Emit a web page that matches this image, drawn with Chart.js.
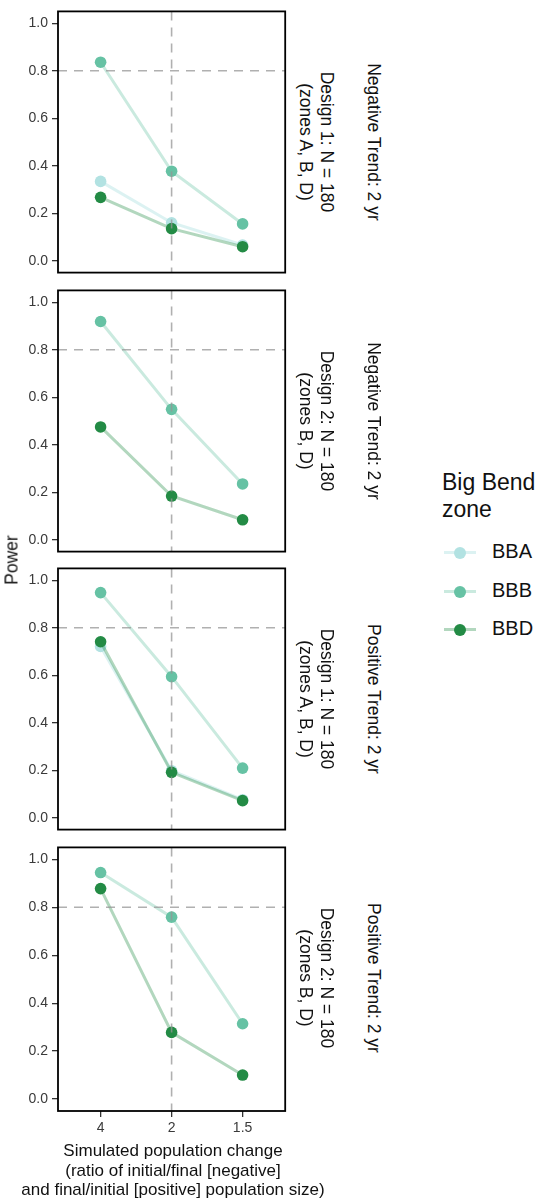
<!DOCTYPE html>
<html>
<head>
<meta charset="utf-8">
<script src="https://cdn.jsdelivr.net/npm/chart.js@4"></script>
<style>
  body { margin: 0; background: #fff; font-family: "Liberation Sans", Arial, sans-serif; }
  #wrap { position: relative; width: 545px; height: 1200px; overflow: hidden; }
  canvas { position: absolute; left: 0; }
  .rot { position: absolute; white-space: nowrap; text-align: center; color: #111; }
  .legend-item { position: absolute; left: 444px; height: 20px; }
  .legend-item .ln { position: absolute; left: 0; top: 8px; width: 32px; height: 3px; }
  .legend-item .pt { position: absolute; left: 10px; top: 4px; width: 12px; height: 12px; border-radius: 50%; }
  .legend-item .lb { position: absolute; left: 48px; top: -3px; font-size: 20px; color: #111; }
</style>
</head>
<body>
<div id="wrap"></div>
<script>
// x categories (simulated population change) and y ticks
const xLabels = ['4', '2', '1.5'];
const yTicks = [0, 0.2, 0.4, 0.6, 0.8, 1.0];
const powerTarget = 0.8;
const refCategory = 1; // the "2" column

const zones = ['BBA', 'BBB', 'BBD'];
const zoneColors = ['#b2e2e2', '#66c2a4', '#238b45'];
const zoneLines = ['rgba(178,226,226,0.45)', 'rgba(102,194,164,0.35)', 'rgba(35,139,69,0.35)'];

const trendLabels = ['Negative Trend: 2 yr', 'Negative Trend: 2 yr', 'Positive Trend: 2 yr', 'Positive Trend: 2 yr'];
const designLabels = [
    ['Design 1: N = 180', '(zones A, B, D)'],
    ['Design 2: N = 180', '(zones B, D)'],
    ['Design 1: N = 180', '(zones A, B, D)'],
    ['Design 2: N = 180', '(zones B, D)']
];

// power values, one array per panel and zone (null = zone not sampled)
const negD1BBA = [0.334, 0.160, 0.066];
const negD1BBB = [0.836, 0.377, 0.155];
const negD1BBD = [0.267, 0.135, 0.059];

const negD2BBA = null;
const negD2BBB = [0.919, 0.549, 0.235];
const negD2BBD = [0.475, 0.184, 0.084];

const posD1BBA = [0.721, 0.198, 0.076];
const posD1BBB = [0.948, 0.594, 0.209];
const posD1BBD = [0.741, 0.191, 0.072];

const posD2BBA = null;
const posD2BBB = [0.945, 0.759, 0.314];
const posD2BBD = [0.878, 0.278, 0.100];

const panelSeries = [
    [negD1BBA, negD1BBB, negD1BBD],
    [negD2BBA, negD2BBB, negD2BBD],
    [posD1BBA, posD1BBB, posD1BBD],
    [posD2BBA, posD2BBB, posD2BBD]
];

const wrap = document.getElementById('wrap');
const panelTop0 = 9, panelStep = 278.7, panelH = 266, padTop = 10;

const frameAndRefs = {
    id: 'frameAndRefs',
    afterDatasetsDraw(chart) {
        const { ctx, chartArea: a, scales: { x, y } } = chart;
        ctx.save();
        ctx.strokeStyle = 'rgba(150,150,150,0.75)';
        ctx.lineWidth = 1.6;
        ctx.setLineDash([9, 7]);
        const yy = y.getPixelForValue(powerTarget);
        ctx.beginPath();
        ctx.moveTo(a.left, yy);
        ctx.lineTo(a.right, yy);
        const xx = x.getPixelForValue(refCategory);
        ctx.moveTo(xx, a.top);
        ctx.lineTo(xx, a.bottom);
        ctx.stroke();
        ctx.setLineDash([]);
        ctx.strokeStyle = '#000';
        ctx.lineWidth = 1.8;
        ctx.strokeRect(a.left, a.top, a.width, a.height);
        ctx.restore();
    }
};

function addRotated(text, cx, cy, deg, size, lineH) {
    const d = document.createElement('div');
    d.className = 'rot';
    d.style.left = cx + 'px';
    d.style.top = cy + 'px';
    d.style.fontSize = size + 'px';
    d.style.lineHeight = lineH + 'px';
    d.style.transform = 'translate(-50%,-50%) rotate(' + deg + 'deg)';
    d.innerHTML = text;
    wrap.appendChild(d);
}

panelSeries.forEach((series, p) => {
    const isLast = p === panelSeries.length - 1;
    const top = panelTop0 + p * panelStep;
    const bottomExtra = isLast ? 30 : 10;
    const canvas = document.createElement('canvas');
    canvas.width = 291;
    canvas.height = Math.round(panelH + padTop + bottomExtra);
    canvas.style.top = (top - padTop) + 'px';
    wrap.appendChild(canvas);

    const datasets = [];
    series.forEach((vals, z) => {
        if (!vals) return;
        datasets.push({
            label: zones[z],
            data: vals.map((v, i) => ({ x: i, y: v })),
            borderColor: zoneLines[z],
            borderWidth: 3,
            pointBackgroundColor: zoneColors[z],
            pointBorderColor: zoneColors[z],
            pointBorderWidth: 0,
            pointRadius: 5.8,
            tension: 0,
            order: zones.length - z
        });
    });

    new Chart(canvas, {
        type: 'line',
        data: { datasets },
        options: {
            responsive: false,
            animation: false,
            events: [],
            layout: { padding: { top: padTop, right: 2, bottom: isLast ? 0 : 10, left: 0 } },
            plugins: { legend: { display: false }, tooltip: { enabled: false } },
            scales: {
                x: {
                    type: 'linear',
                    min: -0.6,
                    max: 2.6,
                    display: isLast,
                    afterBuildTicks: s => { s.ticks = xLabels.map((l, i) => ({ value: i })); },
                    afterFit: s => { if (isLast) s.height = 30; },
                    ticks: {
                        callback: (v) => xLabels[v],
                        font: { family: 'Liberation Sans', size: 14 },
                        color: '#3a3a3a',
                        padding: 3,
                        maxRotation: 0
                    },
                    grid: { drawOnChartArea: false, drawTicks: true, tickLength: 6, color: '#333', lineWidth: 1.3 },
                    border: { display: false }
                },
                y: {
                    min: -0.05,
                    max: 1.05,
                    afterBuildTicks: s => { s.ticks = yTicks.map(v => ({ value: v })); },
                    afterFit: s => { s.width = 58; },
                    ticks: {
                        callback: v => v.toFixed(1),
                        font: { family: 'Liberation Sans', size: 14 },
                        color: '#3a3a3a',
                        padding: 4
                    },
                    grid: { drawOnChartArea: false, drawTicks: true, tickLength: 6, color: '#333', lineWidth: 1.3 },
                    border: { display: false }
                }
            }
        },
        plugins: [frameAndRefs]
    });

    const cy = top + panelH / 2;
    addRotated(designLabels[p].join('<br>'), 315.5, cy, 90, 17.5, 21);
    addRotated(trendLabels[p], 373, cy, 90, 17.5, 21);
});

// shared axis titles
addRotated('Power', 12, 560, -90, 17.5, 21);
const xt = document.createElement('div');
xt.className = 'rot';
xt.style.left = '173px';
xt.style.top = '1141px';
xt.style.fontSize = '17px';
xt.style.lineHeight = '19.5px';
xt.style.transform = 'translateX(-50%)';
xt.innerHTML = 'Simulated population change<br>(ratio of initial/final [negative]<br>and final/initial [positive] population size)';
wrap.appendChild(xt);

// legend
const lt = document.createElement('div');
lt.className = 'rot';
lt.style.left = '442px';
lt.style.top = '469px';
lt.style.fontSize = '23px';
lt.style.lineHeight = '27px';
lt.style.textAlign = 'left';
lt.innerHTML = 'Big Bend<br>zone';
wrap.appendChild(lt);

zones.forEach((z, i) => {
    const item = document.createElement('div');
    item.className = 'legend-item';
    item.style.top = (543 + i * 38.5) + 'px';
    item.innerHTML = '<div class="ln" style="background:' + zoneLines[i] + '"></div>' +
        '<div class="pt" style="background:' + zoneColors[i] + '"></div>' +
        '<div class="lb">' + z + '</div>';
    wrap.appendChild(item);
});
</script>
</body>
</html>
